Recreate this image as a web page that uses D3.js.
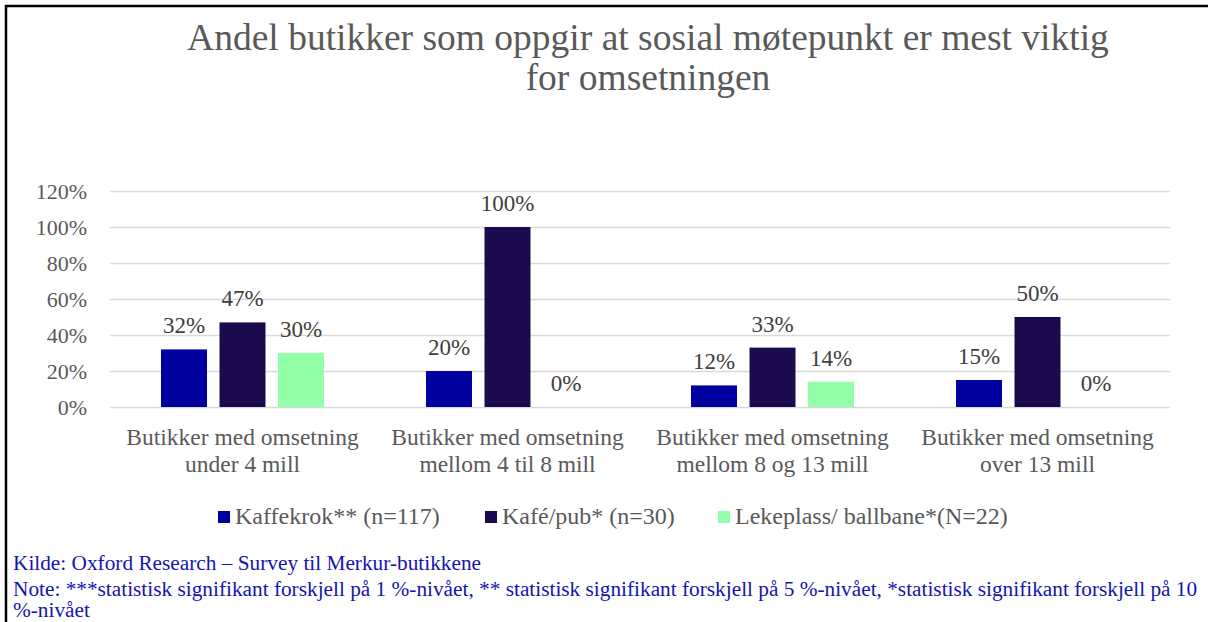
<!DOCTYPE html>
<html>
<head>
<meta charset="utf-8">
<script src="https://cdn.jsdelivr.net/npm/d3@7"></script>
<style>
  html, body { margin: 0; padding: 0; background: #fff; }
  svg { display: block; font-family: "Liberation Serif", "Times New Roman", serif; }
</style>
</head>
<body>
<svg id="chart" width="1208" height="622"></svg>
<script>
const titleLines = ["Andel butikker som oppgir at sosial møtepunkt er mest viktig", "for omsetningen"];
const categories = [
  ["Butikker med omsetning", "under 4 mill"],
  ["Butikker med omsetning", "mellom 4 til 8 mill"],
  ["Butikker med omsetning", "mellom 8 og 13 mill"],
  ["Butikker med omsetning", "over 13 mill"]
];
const seriesNames = ["Kaffekrok** (n=117)", "Kafé/pub* (n=30)", "Lekeplass/ ballbane*(N=22)"];
const kaffekrok = [0.32, 0.20, 0.12, 0.15];
const kafePub = [0.47, 1.00, 0.33, 0.50];
const lekeplass = [0.30, 0.00, 0.14, 0.00];
const yTicks = [0, 0.2, 0.4, 0.6, 0.8, 1.0, 1.2];
const seriesColors = ["#0000a0", "#1b0a4e", "#93ffa8"];
const footLines = [
  "Kilde: Oxford Research – Survey til Merkur-butikkene",
  "Note: ***statistisk signifikant forskjell på 1 %-nivået, ** statistisk signifikant forskjell på 5 %-nivået, *statistisk signifikant forskjell på 10",
  "%-nivået"
];

const seriesValues = [kaffekrok, kafePub, lekeplass];
const svg = d3.select("#chart");

// frame
svg.append("path")
  .attr("d", "M6,622 L6,6 L1208,6")
  .attr("fill", "none").attr("stroke", "#000").attr("stroke-width", 2.5);

// title
svg.append("g").selectAll("text").data(titleLines).join("text")
  .attr("x", 648).attr("y", (d, i) => 50 + i * 40)
  .attr("text-anchor", "middle")
  .attr("font-size", 37.5).attr("fill", "#595959")
  .text(d => d);

const x0 = d3.scaleBand().domain(d3.range(categories.length)).range([110, 1170]);
const x1 = d3.scaleBand().domain(d3.range(seriesNames.length)).range([0, 163]).paddingInner(0.214);
const y = d3.scaleLinear().domain([0, 1.2]).range([407, 191]);

// gridlines
svg.append("g").selectAll("line").data(yTicks).join("line")
  .attr("x1", 110).attr("x2", 1170)
  .attr("y1", d => Math.round(y(d)) + 0.5).attr("y2", d => Math.round(y(d)) + 0.5)
  .attr("stroke", "#d9d9d9").attr("stroke-width", 1.5);

// y axis labels
const yAxis = d3.axisLeft(y).tickValues(yTicks).tickFormat(d3.format(".0%")).tickSize(0).tickPadding(0);
const yg = svg.append("g").attr("transform", "translate(87,0)").call(yAxis);
yg.select(".domain").remove();
yg.selectAll("text").attr("font-size", 22).attr("fill", "#595959")
  .attr("font-family", "Liberation Serif, Times New Roman, serif").attr("dy", "0.35em");

// bars
const groups = svg.append("g").selectAll("g").data(categories).join("g")
  .attr("transform", (d, i) => `translate(${x0(i) + x0.bandwidth() / 2 - 81.5},0)`);

groups.each(function(c, ci) {
  const g = d3.select(this);
  const vals = seriesValues.map((s, si) => ({ si, v: s[ci] }));
  g.selectAll("rect").data(vals.filter(d => d.v > 0)).join("rect")
    .attr("x", d => x1(d.si)).attr("width", x1.bandwidth())
    .attr("y", d => y(d.v)).attr("height", d => y(0) - y(d.v))
    .attr("fill", d => seriesColors[d.si]);
  g.selectAll("text").data(vals).join("text")
    .attr("x", d => x1(d.si) + x1.bandwidth() / 2)
    .attr("y", d => y(d.v) - 16)
    .attr("text-anchor", "middle").attr("font-size", 23).attr("fill", "#404040")
    .text(d => d3.format(".0%")(d.v));
});

// category labels
const cl = svg.append("g").selectAll("text").data(categories).join("text")
  .attr("x", (d, i) => x0(i) + x0.bandwidth() / 2)
  .attr("y", 445)
  .attr("text-anchor", "middle").attr("font-size", 23.5).attr("fill", "#595959");
cl.selectAll("tspan").data(d => d).join("tspan")
  .attr("x", function() { return d3.select(this.parentNode).attr("x"); })
  .attr("dy", (d, i) => i === 0 ? 0 : 27)
  .text(d => d);

// legend
const legendX = [218, 485, 718];
const lg = svg.append("g").selectAll("g").data(seriesNames).join("g")
  .attr("transform", (d, i) => `translate(${legendX[i]},0)`);
lg.append("rect").attr("x", 0).attr("y", 511).attr("width", 12).attr("height", 12)
  .attr("fill", (d, i) => seriesColors[i]);
lg.append("text").attr("x", 17).attr("y", 524).attr("font-size", 24).attr("fill", "#595959").text(d => d);

// footnotes
svg.append("g").selectAll("text").data(footLines).join("text")
  .attr("x", 13).attr("y", (d, i) => [570, 596, 617][i])
  .attr("font-size", 21.3).attr("fill", "#1414b0")
  .text(d => d);
</script>
</body>
</html>
